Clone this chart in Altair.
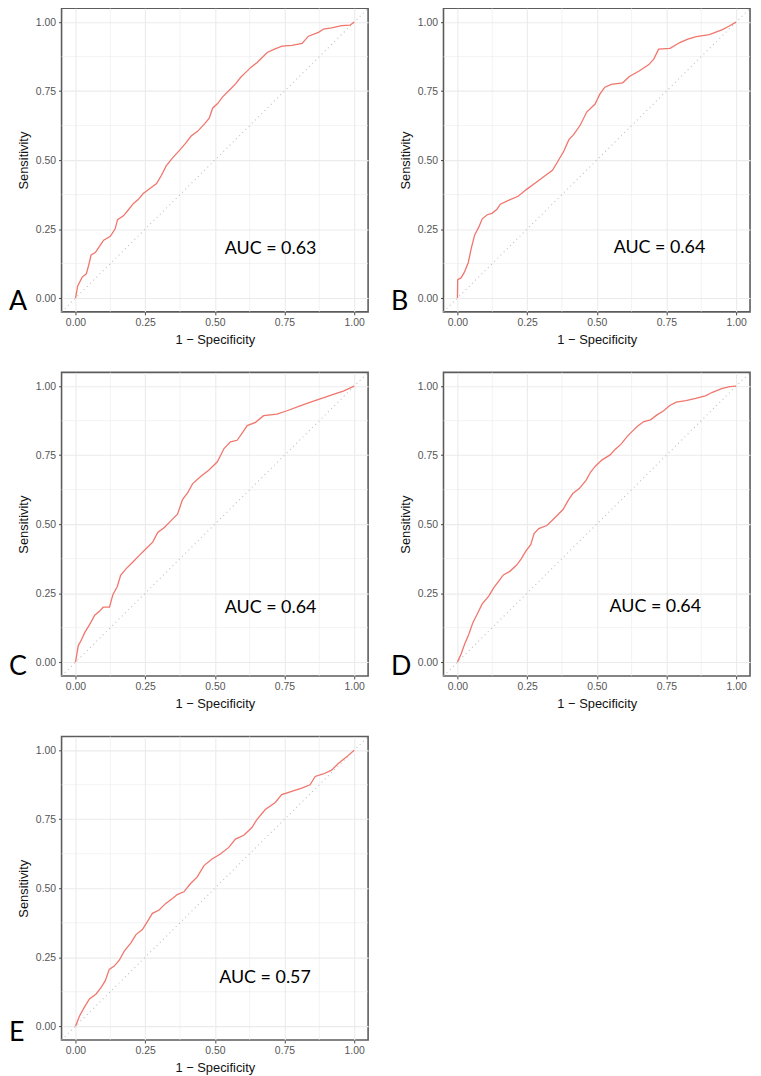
import altair as alt
import pandas as pd

# ---------------- data ----------------
A_x = [0, 0.008, 0.024, 0.039, 0.047, 0.056, 0.071, 0.083, 0.101, 0.125, 0.142, 0.151, 0.172, 0.19, 0.208,
       0.225, 0.243, 0.267, 0.291, 0.308, 0.326, 0.35, 0.374, 0.397, 0.415, 0.439, 0.463, 0.48, 0.492, 0.51,
       0.528, 0.552, 0.575, 0.593, 0.611, 0.629, 0.652, 0.67, 0.688, 0.712, 0.741, 0.777, 0.813, 0.836, 0.872,
       0.89, 0.919, 0.955, 0.985, 1.0]
A_y = [0, 0.044, 0.076, 0.088, 0.118, 0.156, 0.165, 0.183, 0.21, 0.224, 0.25, 0.284, 0.298, 0.32, 0.343,
       0.357, 0.379, 0.397, 0.415, 0.444, 0.48, 0.51, 0.536, 0.563, 0.587, 0.605, 0.631, 0.652, 0.688, 0.705,
       0.729, 0.753, 0.777, 0.8, 0.818, 0.836, 0.854, 0.872, 0.89, 0.901, 0.913, 0.916, 0.923, 0.949, 0.963,
       0.975, 0.979, 0.987, 0.989, 1.0]

B_x = [0, 0.001, 0.013, 0.025, 0.039, 0.05, 0.062, 0.077, 0.089, 0.107, 0.124, 0.142, 0.154, 0.183, 0.218,
       0.247, 0.283, 0.318, 0.341, 0.359, 0.382, 0.4, 0.417, 0.441, 0.464, 0.494, 0.511, 0.529, 0.552, 0.593,
       0.617, 0.652, 0.687, 0.705, 0.722, 0.763, 0.798, 0.827, 0.857, 0.904, 0.951, 0.974, 1.0]
B_y = [0, 0.067, 0.073, 0.094, 0.129, 0.182, 0.229, 0.258, 0.287, 0.302, 0.307, 0.322, 0.34, 0.354, 0.369,
       0.393, 0.42, 0.446, 0.463, 0.493, 0.533, 0.574, 0.592, 0.627, 0.674, 0.703, 0.739, 0.764, 0.774, 0.78,
       0.803, 0.823, 0.846, 0.867, 0.902, 0.905, 0.926, 0.938, 0.947, 0.955, 0.973, 0.985, 1.0]

C_x = [0, 0.01, 0.021, 0.033, 0.051, 0.069, 0.087, 0.099, 0.122, 0.134, 0.15, 0.162, 0.182, 0.206, 0.229,
       0.253, 0.277, 0.295, 0.319, 0.342, 0.366, 0.384, 0.402, 0.42, 0.449, 0.479, 0.509, 0.533, 0.556, 0.58,
       0.598, 0.616, 0.646, 0.675, 0.723, 0.759, 0.806, 0.854, 0.889, 0.925, 0.961, 1.0]
C_y = [0, 0.06, 0.08, 0.107, 0.137, 0.17, 0.185, 0.199, 0.199, 0.244, 0.274, 0.315, 0.339, 0.363, 0.387,
       0.411, 0.435, 0.47, 0.488, 0.512, 0.536, 0.589, 0.613, 0.646, 0.673, 0.696, 0.726, 0.774, 0.798, 0.804,
       0.83, 0.857, 0.869, 0.893, 0.899, 0.911, 0.929, 0.946, 0.958, 0.97, 0.982, 1.0]

D_x = [0, 0.014, 0.026, 0.041, 0.055, 0.072, 0.089, 0.113, 0.13, 0.147, 0.165, 0.188, 0.211, 0.229, 0.246,
       0.263, 0.275, 0.292, 0.321, 0.345, 0.362, 0.379, 0.397, 0.414, 0.437, 0.461, 0.478, 0.495, 0.519, 0.548,
       0.565, 0.588, 0.611, 0.629, 0.646, 0.669, 0.693, 0.716, 0.739, 0.762, 0.785, 0.82, 0.855, 0.89, 0.913,
       0.948, 0.977, 1.0]
D_y = [0, 0.031, 0.066, 0.101, 0.142, 0.176, 0.211, 0.24, 0.269, 0.292, 0.316, 0.329, 0.35, 0.374, 0.403,
       0.426, 0.466, 0.484, 0.495, 0.519, 0.536, 0.553, 0.585, 0.611, 0.629, 0.658, 0.689, 0.71, 0.733, 0.751,
       0.77, 0.791, 0.82, 0.838, 0.855, 0.872, 0.878, 0.896, 0.91, 0.93, 0.942, 0.948, 0.956, 0.965, 0.977,
       0.991, 0.998, 1.0]

E_x = [0, 0.014, 0.032, 0.05, 0.074, 0.092, 0.107, 0.121, 0.139, 0.157, 0.175, 0.199, 0.217, 0.24, 0.258,
       0.276, 0.3, 0.324, 0.348, 0.365, 0.389, 0.413, 0.437, 0.461, 0.49, 0.52, 0.55, 0.574, 0.604, 0.633,
       0.651, 0.681, 0.717, 0.74, 0.776, 0.812, 0.842, 0.86, 0.889, 0.919, 0.943, 0.973, 1.0]
E_y = [0, 0.036, 0.069, 0.099, 0.117, 0.141, 0.165, 0.206, 0.218, 0.239, 0.272, 0.302, 0.332, 0.35, 0.379,
       0.409, 0.421, 0.445, 0.463, 0.477, 0.487, 0.517, 0.541, 0.582, 0.606, 0.624, 0.648, 0.678, 0.692, 0.72,
       0.749, 0.785, 0.811, 0.839, 0.851, 0.863, 0.875, 0.905, 0.914, 0.928, 0.952, 0.976, 1.0]

panel_letters = ["A", "B", "C", "D", "E"]
auc_labels = ["AUC = 0.63", "AUC = 0.64", "AUC = 0.64", "AUC = 0.64", "AUC = 0.57"]
auc_x = [0.70, 0.725, 0.70, 0.71, 0.68]
auc_y = [0.178, 0.183, 0.196, 0.20, 0.176]

major_ticks = [0.0, 0.25, 0.5, 0.75, 1.0]
minor_ticks = [0.125, 0.375, 0.625, 0.875]
diag_vals = [-0.05, 1.05]
x_title = "1 \u2212 Specificity"
y_title = "Sensitivity"

DOM = [-0.05, 1.05]
W, H = 309, 306
GRID = "#EBEBEB"
FRAME = "#5C5C5C"
LABEL_FONT = "Liberation Sans"


def make_axis(title):
    return alt.Axis(values=major_ticks, format=".2f", title=title, grid=True, gridColor=GRID,
                    gridWidth=1.1, domain=False, ticks=True, tickColor="#444444", tickSize=3,
                    tickWidth=1, labelPadding=3, labelColor="#555555", labelFontSize=10.5,
                    labelFont=LABEL_FONT, titleFont=LABEL_FONT, titleFontSize=13,
                    titleFontWeight="normal", titleColor="#111111", titlePadding=5, labelFlush=False)


def X(field):
    return alt.X(field, type="quantitative", scale=alt.Scale(domain=DOM, nice=False, zero=False),
                 axis=make_axis(x_title))


def Y(field):
    return alt.Y(field, type="quantitative", scale=alt.Scale(domain=DOM, nice=False, zero=False),
                 axis=make_axis(y_title))


def panel(xs, ys, idx, w=W, h=H):
    px_per_unit = w / 1.1
    letter_x = -0.05 - 53 / px_per_unit
    roc = pd.DataFrame({"fpr": xs, "tpr": ys})
    minor = pd.DataFrame({"v": minor_ticks})
    diag = pd.DataFrame({"d": diag_vals, "e": diag_vals})
    auc = pd.DataFrame({"ax": [auc_x[idx]], "ay": [auc_y[idx]], "t": [auc_labels[idx]]})
    let = pd.DataFrame({"lx": [letter_x], "ly": [-0.045 if idx < 4 else -0.055], "t": [panel_letters[idx]]})

    minor_v = alt.Chart(minor).mark_rule(color=GRID, strokeWidth=0.6).encode(x=X("v"))
    minor_h = alt.Chart(minor).mark_rule(color=GRID, strokeWidth=0.6).encode(y=Y("v"))
    diag_line = alt.Chart(diag).mark_line(color="#BDBDBD", strokeWidth=1.1, strokeDash=[1, 3.5]).encode(
        x=X("d"), y=Y("e"))
    roc_line = alt.Chart(roc).mark_line(color="#F0766D", strokeWidth=1.3).encode(
        x=X("fpr"), y=Y("tpr"), order="fpr:Q")
    auc_text = alt.Chart(auc).mark_text(font="Lato", fontSize=18, color="black", align="center",
                                        baseline="middle").encode(x=X("ax"), y=Y("ay"), text="t:N")
    letter_text = alt.Chart(let).mark_text(font="Lato", fontSize=27, color="black", align="left",
                                           baseline="alphabetic").encode(x=X("lx"), y=Y("ly"), text="t:N")
    return alt.layer(minor_v, minor_h, diag_line, roc_line, auc_text, letter_text).properties(
        width=w, height=h,
        view=alt.ViewBackground(stroke=FRAME, strokeWidth=1.6, fill="white"))


pA = panel(A_x, A_y, 0)
pB = panel(B_x, B_y, 1)
pC = panel(C_x, C_y, 2)
pD = panel(D_x, D_y, 3)
pE = panel(E_x, E_y, 4)

chart = alt.vconcat(
    alt.hconcat(pA, pB, spacing=19),
    alt.hconcat(pC, pD, spacing=19),
    pE,
    spacing=22,
).properties(
    padding={"left": 0, "top": -7, "right": 0, "bottom": 0}
).configure_view(
    stroke=FRAME, strokeWidth=1.6
).configure(background="white")

chart.save("out.html", embed_options={"renderer": "svg", "actions": False})
